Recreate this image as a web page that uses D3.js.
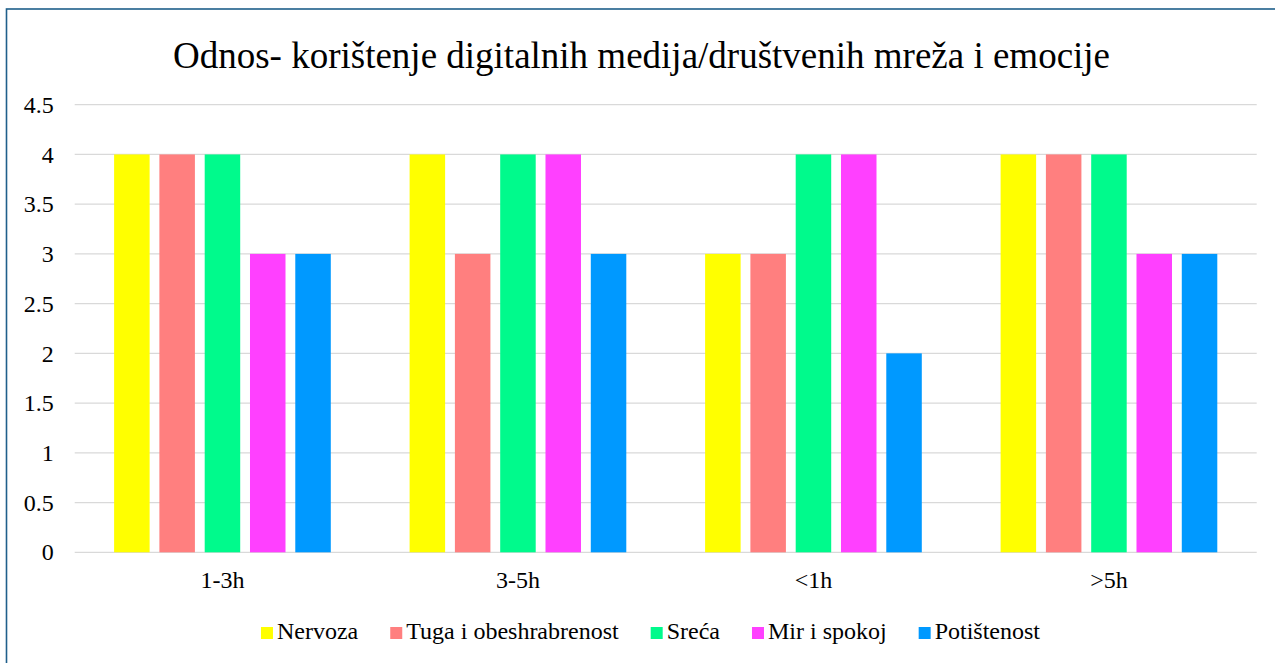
<!DOCTYPE html>
<html>
<head>
<meta charset="utf-8">
<script src="https://cdnjs.cloudflare.com/ajax/libs/d3/7.8.5/d3.min.js"></script>
<style>
    body { margin: 0; background: #fff; }
    svg { display: block; font-family: "Liberation Serif", "Times New Roman", serif; }
</style>
</head>
<body>
<div id="chart"></div>
<script>
    var categories = ['1-3h', '3-5h', '<1h', '>5h'];
    var seriesNames = ['Nervoza', 'Tuga i obeshrabrenost', 'Sreća', 'Mir i spokoj', 'Potištenost'];
    var seriesColors = ['#ffff00', '#ff7f7f', '#00fa8c', '#ff40ff', '#0099ff'];
    var nervoza = [4, 4, 3, 4];
    var tuga = [4, 3, 3, 4];
    var sreca = [4, 4, 4, 4];
    var mir = [3, 4, 4, 3];
    var potistenost = [3, 3, 2, 3];
    var yTicks = [0, 0.5, 1, 1.5, 2, 2.5, 3, 3.5, 4, 4.5];

    var seriesValues = [nervoza, tuga, sreca, mir, potistenost];

    var width = 1275, height = 663;
    var margin = { top: 104.7, right: 18.3, bottom: 110.7, left: 74.7 };

    var svg = d3.select('#chart')
        .append('svg')
        .attr('width', width)
        .attr('height', height);

    // outer frame (chart area border, cut off at right and bottom)
    svg.append('rect')
        .attr('x', 6.5)
        .attr('y', 9)
        .attr('width', width + 20)
        .attr('height', height + 20)
        .attr('fill', 'none')
        .attr('stroke', '#1f5f8b')
        .attr('stroke-width', 1.6);

    svg.append('text')
        .attr('x', 641.5)
        .attr('y', 68)
        .attr('text-anchor', 'middle')
        .attr('font-size', 37)
        .attr('fill', '#000')
        .text('Odnos- korištenje digitalnih medija/društvenih mreža i emocije');

    var x0 = d3.scaleBand()
        .domain(categories)
        .range([margin.left, width - margin.right])
        .padding(0);

    var x1 = d3.scaleBand()
        .domain(seriesNames)
        .range([0, x0.bandwidth()])
        .paddingInner(0.216)
        .paddingOuter(0.87);

    var y = d3.scaleLinear()
        .domain([0, 4.5])
        .range([height - margin.bottom, margin.top]);

    // gridlines
    svg.append('g')
        .selectAll('line')
        .data(yTicks)
        .enter()
        .append('line')
        .attr('x1', margin.left)
        .attr('x2', width - margin.right)
        .attr('y1', function (d) { return y(d); })
        .attr('y2', function (d) { return y(d); })
        .attr('stroke', '#d9d9d9')
        .attr('stroke-width', 1.3);

    // y axis labels
    var yAxis = d3.axisLeft(y)
        .tickValues(yTicks)
        .tickSize(0)
        .tickPadding(21)
        .tickFormat(function (d) { return String(d); });

    var yg = svg.append('g')
        .attr('transform', 'translate(' + margin.left + ',0)')
        .call(yAxis);
    yg.select('.domain').remove();
    yg.selectAll('text')
        .attr('font-family', '"Liberation Serif", "Times New Roman", serif')
        .attr('font-size', 24)
        .attr('fill', '#000')
        .attr('dy', '0.32em');

    // bars
    var groups = svg.append('g')
        .selectAll('g')
        .data(categories)
        .enter()
        .append('g')
        .attr('transform', function (d) { return 'translate(' + x0(d) + ',0)'; });

    groups.selectAll('rect')
        .data(function (d, i) {
            return seriesNames.map(function (s, j) {
                return { series: s, value: seriesValues[j][i], color: seriesColors[j] };
            });
        })
        .enter()
        .append('rect')
        .attr('x', function (d) { return x1(d.series); })
        .attr('width', x1.bandwidth())
        .attr('y', function (d) { return y(d.value); })
        .attr('height', function (d) { return y(0) - y(d.value); })
        .attr('fill', function (d) { return d.color; });

    // x axis labels
    var xAxis = d3.axisBottom(x0)
        .tickSize(0)
        .tickPadding(20);

    var xg = svg.append('g')
        .attr('transform', 'translate(0,' + y(0) + ')')
        .call(xAxis);
    xg.select('.domain').remove();
    xg.selectAll('text')
        .attr('font-family', '"Liberation Serif", "Times New Roman", serif')
        .attr('font-size', 24)
        .attr('fill', '#000')
        .attr('dy', '0')
        .attr('y', 36);

    // legend
    var legend = svg.append('g');
    var items = legend.selectAll('g')
        .data(seriesNames)
        .enter()
        .append('g');

    items.append('rect')
        .attr('width', 12)
        .attr('height', 12)
        .attr('y', 627)
        .attr('fill', function (d, i) { return seriesColors[i]; });

    items.append('text')
        .attr('x', 16)
        .attr('y', 639)
        .attr('font-size', 24)
        .attr('fill', '#000')
        .text(function (d) { return d; });

    var offset = 0;
    items.each(function () {
        var g = d3.select(this);
        var w = 16 + g.select('text').node().getComputedTextLength();
        g.attr('transform', 'translate(' + offset + ',0)');
        offset += w + 32;
    });
    var total = offset - 32;
    legend.attr('transform', 'translate(' + (650.5 - total / 2) + ',0)');
</script>
</body>
</html>
